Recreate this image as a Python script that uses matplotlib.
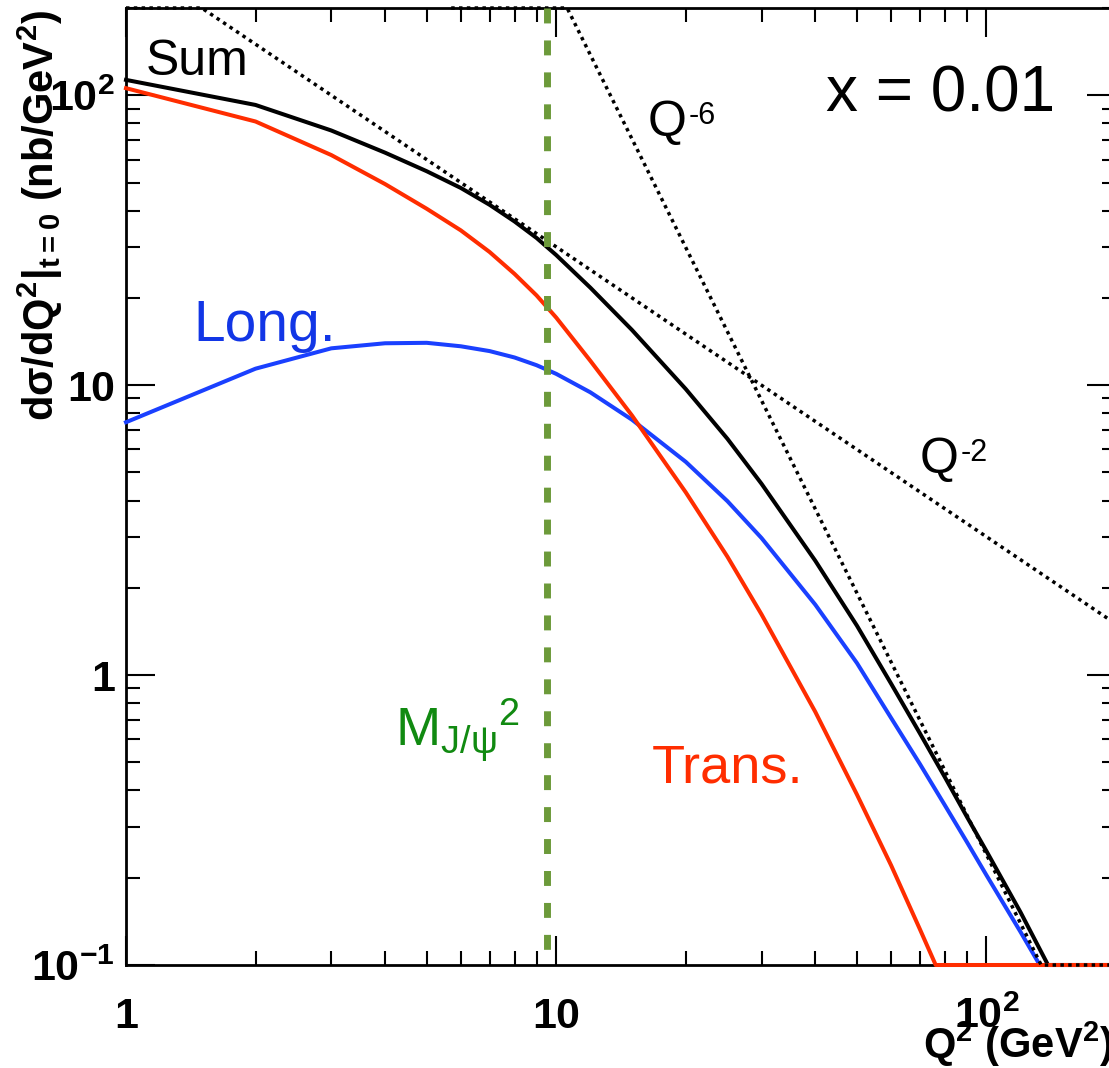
import matplotlib
matplotlib.use("Agg")
import matplotlib.pyplot as plt
from matplotlib.ticker import LogLocator, NullFormatter

plt.rcParams["font.family"] = ["Liberation Sans", "DejaVu Sans"]
plt.rcParams["mathtext.default"] = "regular"

# d(sigma)/dQ^2 at t = 0 (nb/GeV^2) versus Q^2 (GeV^2), x = 0.01
q2_sum = [1, 2, 3, 4, 5, 6, 7, 8, 9, 10, 12, 15, 20, 25, 30, 40, 50, 60, 70,
          80, 90, 100, 120, 139, 200]
sig_sum = [113, 92.6, 75.6, 63.4, 54.7, 47.9, 41.9, 36.7, 32.2, 28.1, 21.7,
           15.5, 9.7, 6.53, 4.57, 2.48, 1.48, 0.935, 0.630, 0.445, 0.325,
           0.247, 0.152, 0.1, 0.1]

q2_long = [1, 2, 3, 4, 5, 6, 7, 8, 9, 10, 12, 15, 20, 25, 30, 40, 50, 60, 70,
           80, 90, 100, 120, 133, 200]
sig_long = [7.45, 11.4, 13.4, 13.95, 14.0, 13.62, 13.11, 12.46, 11.72, 10.94,
            9.45, 7.6, 5.44, 3.98, 2.97, 1.75, 1.10, 0.712, 0.494, 0.356,
            0.266, 0.204, 0.13, 0.1, 0.1]

q2_trans = [1, 2, 3, 4, 5, 6, 7, 8, 9, 10, 12, 15, 20, 25, 30, 40, 50, 60, 70,
            76.2, 200]
sig_trans = [105.8, 81.2, 62.2, 49.4, 40.6, 34.2, 28.8, 24.2, 20.4, 17.1,
             12.14, 7.86, 4.27, 2.56, 1.62, 0.747, 0.387, 0.221, 0.133, 0.1,
             0.1]

# power-law guides, held at the frame edges outside the plotted range
q2_guide2 = [1, 1.5, 200]
sig_guide2 = [200, 200, 1.5]
q2_guide6 = [5.7, 10.6, 134, 200]
sig_guide6 = [200, 200, 0.1, 0.1]

# J/psi mass squared (GeV^2)
mjpsi_sq = 9.5

RED = "#ff2d00"
BLUE = "#1a40ff"
GREEN_LINE = "#6c9a3a"
GREEN_TEXT = "#118a11"

fig = plt.figure(figsize=(11.09, 10.68), dpi=100)
ax = fig.add_axes([126 / 1109, 103 / 1068, 990 / 1109, 957 / 1068])
ax.set_xscale("log")
ax.set_yscale("log")
ax.set_xlim(1, 200)
ax.set_ylim(0.1, 200)

lw = 2.9
ax.plot(q2_sum, sig_sum, color="black", lw=lw, clip_on=False, zorder=3)
ax.plot(q2_long, sig_long, color=BLUE, lw=lw, clip_on=False, zorder=3.1)
ax.plot(q2_trans, sig_trans, color=RED, lw=lw, clip_on=False, zorder=3.2)

for gx, gy in ((q2_guide2, sig_guide2), (q2_guide6, sig_guide6)):
    ax.plot(gx, gy, color="black", lw=2.5, dashes=(1.0, 1.25),
            dash_capstyle="butt", clip_on=False, zorder=3.5)

ax.plot([mjpsi_sq, mjpsi_sq], [200, 0.1], color=GREEN_LINE, lw=5.0,
        dashes=(2.15, 2.45), dash_capstyle="butt", zorder=4)

# axes, ticks and labels
for sp in ax.spines.values():
    sp.set_linewidth(2.0)

ax.set_xticks([1, 10, 100], ["1", "10", r"$10^{2}$"], fontsize=31,
              fontweight="bold", va="baseline")
ax.set_yticks([0.1, 1, 10, 100], [r"$10^{-1}$", "1", "10", r"$10^{2}$"],
              fontsize=31, fontweight="bold")
for axis in (ax.xaxis, ax.yaxis):
    axis.set_minor_locator(LogLocator(base=10, subs=range(2, 10), numticks=20))
    axis.set_minor_formatter(NullFormatter())

ax.tick_params(which="both", direction="in", top=True, right=True, width=1.5)
ax.tick_params(which="major", length=21)
ax.tick_params(which="minor", length=10)
ax.tick_params(axis="x", which="major", pad=45)
ax.tick_params(axis="y", which="major", pad=8)

ax.set_xlabel(r"Q$^{2}$ (GeV$^{2}$)", fontsize=30, fontweight="bold",
              ha="right", va="baseline")
ax.xaxis.set_label_coords(0.997, -0.0972)
ax.set_ylabel(r"d$\sigma$/dQ$^{2}$|$_{t=0}$ (nb/GeV$^{2}$)", fontsize=30,
              fontweight="bold", ha="right", va="baseline")
ax.yaxis.set_label_coords(-0.0727, 0.998)


def power_label(x, y, exponent):
    ax.text(x, y, "Q", fontsize=36, color="black", va="baseline")
    ax.annotate(exponent, xy=(x, y), xycoords="data", xytext=(29.5, 8.6),
                textcoords="offset points", fontsize=22, color="black",
                va="baseline")


# annotations
ax.text(1.11, 117.3, "Sum", fontsize=36, color="black", va="baseline")
ax.text(42.46, 88.1, "x = 0.01", fontsize=46, color="black", va="baseline")
power_label(16.32, 72.2, "-6")
power_label(70.0, 4.98, "-2")
ax.text(1.436, 14.24, "Long.", fontsize=41, color="#1236e6", va="baseline")
ax.text(16.63, 0.4257, "Trans.", fontsize=39, color=RED, va="baseline")
ax.text(4.21, 0.567, r"M$_{J/\psi}{}^{2}$", fontsize=39, color=GREEN_TEXT,
        va="baseline")

fig.savefig("out.png", dpi=100)
